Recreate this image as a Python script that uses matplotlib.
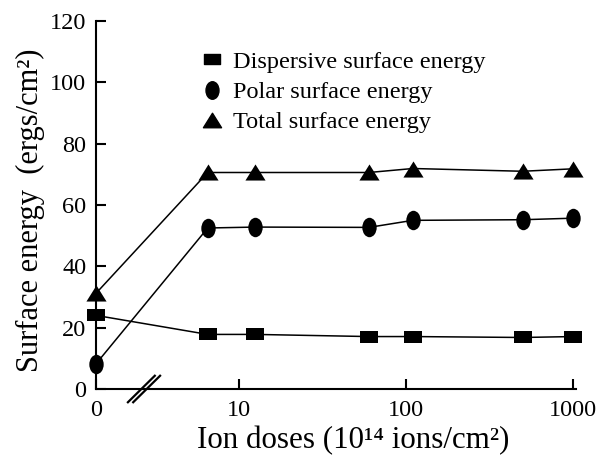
#!/usr/bin/env python3
"""
Surface energy components versus ion dose, with a broken x axis
so the untreated (zero dose) sample sits next to the log-scaled doses.
"""

import matplotlib
matplotlib.use("Agg")
import matplotlib.pyplot as plt
from matplotlib.lines import Line2D
from matplotlib.path import Path
from matplotlib.transforms import Affine2D


# Ion dose in units of 1e14 ions/cm^2 (first point is the untreated sample)
doses = [0, 6.5, 12.5, 60, 110, 500, 1000]

dispersive = [24.0, 17.8, 17.8, 17.1, 17.1, 16.8, 17.1]
polar = [8.2, 52.5, 52.8, 52.7, 55.0, 55.2, 55.7]
total = [31.2, 70.6, 70.6, 70.6, 71.9, 71.0, 71.8]

xtick_values = [10, 100, 1000]
xtick_labels = ["10", "100", "1000"]
yticks = [0, 20, 40, 60, 80, 100, 120]

# Where the zero dose is drawn on the log axis (left end of the broken axis)
ZERO_STAND_IN = 10 ** 0.144
X_MAX = 10 ** 3.018

FONTS = ["Liberation Serif", "DejaVu Serif"]
plt.rcParams["font.family"] = FONTS

# Slightly flattened/stretched marker shapes
SQUARE = Path([(-1, -0.62), (1, -0.62), (1, 0.62), (-1, 0.62), (-1, -0.62)],
              [Path.MOVETO, Path.LINETO, Path.LINETO, Path.LINETO, Path.CLOSEPOLY])
ELLIPSE = Path.unit_circle().transformed(Affine2D().scale(0.74, 1.0))
TRIANGLE = Path([(0, 0.8), (-1, -0.8), (1, -0.8), (0, 0.8)],
                [Path.MOVETO, Path.LINETO, Path.LINETO, Path.CLOSEPOLY])


def plot_positions(values):
    return [ZERO_STAND_IN if v == 0 else v for v in values]


def main():
    fig = plt.figure(figsize=(6.02, 4.57), dpi=100)
    ax = fig.add_axes([96 / 602, 68 / 457, 480 / 602, 368 / 457])

    xs = plot_positions(doses)
    series = [
        (dispersive, SQUARE, 13.5, "Dispersive surface energy"),
        (polar, ELLIPSE, 14.0, "Polar surface energy"),
        (total, TRIANGLE, 14.5, "Total surface energy"),
    ]
    handles = []
    for values, marker, size, label in series:
        ax.plot(xs, values, color="black", linewidth=1.1, marker=marker,
                markersize=size, markerfacecolor="black", markeredgecolor="black",
                markeredgewidth=0, clip_on=False, zorder=3)
        handles.append(Line2D([0], [0], linestyle="none", marker=marker,
                              markersize=size * 0.9, color="black", label=label))

    ax.set_xscale("log")
    ax.set_xlim(ZERO_STAND_IN, X_MAX)
    ax.set_ylim(0, 120)

    ax.set_xticks([ZERO_STAND_IN] + xtick_values)
    ax.set_xticklabels(["0"] + xtick_labels)
    ax.xaxis.set_minor_locator(matplotlib.ticker.NullLocator())
    ax.set_yticks(yticks)
    ax.set_yticklabels([str(v) for v in yticks])

    for side in ("top", "right"):
        ax.spines[side].set_visible(False)
    for side in ("left", "bottom"):
        ax.spines[side].set_linewidth(1.5)

    ax.tick_params(direction="in", length=7.5, width=1.5, labelsize=17.5, pad=7)
    ax.tick_params(axis="x", pad=8)

    ax.set_ylabel("Surface energy  (ergs/cm²)", fontsize=22)
    ax.yaxis.set_label_coords(-0.107, 0.486)
    ax.set_xlabel("Ion doses (10¹⁴ ions/cm²)", fontsize=22.3)
    ax.xaxis.set_label_coords(0.536, -0.1)

    # Axis break marks "//"
    for dx in (-0.0055, 0.0055):
        cx = 0.1 + dx
        ax.plot([cx - 0.028, cx + 0.028], [-0.036, 0.036], color="black",
                linewidth=1.6, transform=ax.transAxes, clip_on=False, zorder=4)

    ax.legend(handles=handles, loc="upper left", bbox_to_anchor=(0.2, 0.945),
              frameon=False, fontsize=17.5, handlelength=0.85, handletextpad=0.45,
              labelspacing=0.33, borderaxespad=0)

    fig.savefig("out.png", dpi=100)
    plt.close(fig)


if __name__ == "__main__":
    main()
